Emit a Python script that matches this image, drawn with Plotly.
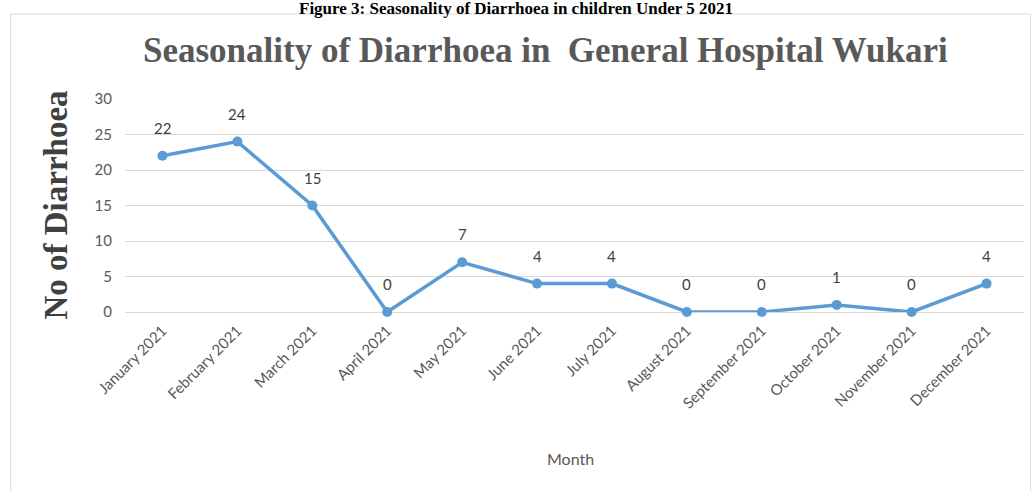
import plotly.graph_objects as go

months = ["January 2021", "February 2021", "March 2021", "April 2021", "May 2021",
          "June 2021", "July 2021", "August 2021", "September 2021", "October 2021",
          "November 2021", "December 2021"]
cases = [22, 24, 15, 0, 7, 4, 4, 0, 0, 1, 0, 4]
y_ticks = [0, 5, 10, 15, 20, 25, 30]

W, H = 1032, 491
L, R, T, B = 124.5, 7.5, 99, 179
pw, ph = W - L - R, H - T - B

def px(x):
    return (x - L) / pw

def py(y):
    return (H - B - y) / ph

fig = go.Figure()
fig.add_trace(go.Scatter(
    x=months, y=cases, mode="lines+markers",
    line=dict(color="#5B9BD5", width=3.5),
    marker=dict(color="#5B9BD5", size=10),
    cliponaxis=False, showlegend=False,
))

annotations = [
    dict(x=m, y=v, text=str(v), xref="x", yref="y", showarrow=False, yshift=28,
         font=dict(family="Lato, Open Sans, sans-serif", size=15, color="#404040"))
    for m, v in zip(months, cases)
]
annotations += [
    dict(text="<b>Figure 3: Seasonality of Diarrhoea in children Under 5 2021</b>",
         xref="paper", yref="paper", x=px(516), y=py(8), showarrow=False,
         xanchor="center", yanchor="middle",
         font=dict(family="Liberation Serif, Times New Roman, serif", size=17, color="#000000")),
    dict(text="<b>Seasonality of Diarrhoea in  General Hospital Wukari</b>",
         xref="paper", yref="paper", x=px(545), y=py(50), showarrow=False,
         xanchor="center", yanchor="middle",
         font=dict(family="Liberation Serif, Times New Roman, serif", size=35, color="#595959")),
    dict(text="<b>No of Diarrhoea</b>", textangle=-90,
         xref="paper", yref="paper", x=px(55), y=py(205), showarrow=False,
         xanchor="center", yanchor="middle",
         font=dict(family="Liberation Serif, Times New Roman, serif", size=33, color="#404040")),
    dict(text="Month",
         xref="paper", yref="paper", x=px(570), y=py(458), showarrow=False,
         xanchor="center", yanchor="middle",
         font=dict(family="Lato, Open Sans, sans-serif", size=16, color="#595959")),
]

fig.update_layout(
    width=W, height=H,
    margin=dict(l=L, r=R, t=T, b=B),
    paper_bgcolor="white", plot_bgcolor="white",
    xaxis=dict(
        type="category", range=[-0.5, len(months) - 0.5], tickangle=-45,
        showgrid=False, showline=False,
        tickfont=dict(family="Lato, Open Sans, sans-serif", size=15, color="#595959"),
        ticks="", ticklabelstandoff=6, fixedrange=True,
    ),
    yaxis=dict(
        range=[0, 30], tickvals=y_ticks, showgrid=True, gridcolor="#D9D9D9", gridwidth=1,
        zeroline=True, zerolinecolor="#D9D9D9", zerolinewidth=1, showline=False,
        tickfont=dict(family="Lato, Open Sans, sans-serif", size=15, color="#595959"),
        ticklabelstandoff=12, fixedrange=True,
    ),
    shapes=[dict(type="rect", xref="paper", yref="paper",
                 x0=px(10), x1=px(1031), y0=py(14), y1=py(520),
                 line=dict(color="#D9D9D9", width=1), fillcolor="rgba(0,0,0,0)", layer="below")],
    annotations=annotations,
)

fig.write_html("out.html")
